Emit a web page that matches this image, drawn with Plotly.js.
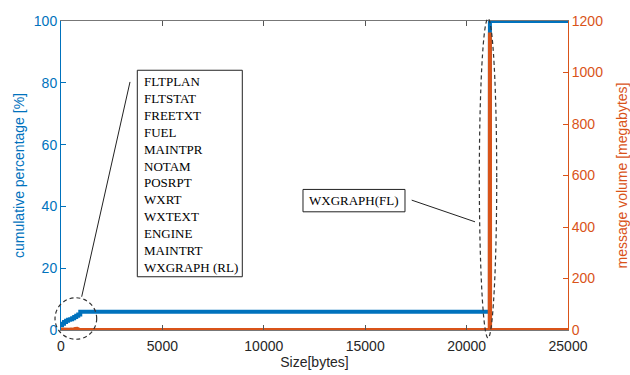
<!DOCTYPE html>
<html>
<head>
<meta charset="utf-8">
<script src="https://cdn.plot.ly/plotly-3.0.1.min.js"></script>
<style>html,body{margin:0;padding:0;background:#fff;}#chart{width:630px;height:375px;}</style>
</head>
<body>
<div id="chart"></div>
<script>
// Cumulative percentage of messages vs message size (bytes)
const cumSize = [0, 50, 150, 250, 350, 450, 550, 650, 750, 850, 950, 21150, 21150, 25000];
const cumPercent = [1.5, 2.0, 2.6, 3.0, 3.3, 3.5, 3.8, 4.2, 4.6, 5.0, 5.9, 5.9, 100, 100];

// Message volume (megabytes) vs message size (bytes)
const volSize = [0, 100, 200, 300, 400, 500, 600, 700, 800, 900, 1000, 21140, 21150, 21160, 25000];
const volMB = [2, 1, 3, 1, 1, 2, 1, 4, 5, 1, 0, 0, 1155, 0, 0];

// Annotation texts
const groupLabels = ["FLTPLAN","FLTSTAT","FREETXT","FUEL","MAINTPR","NOTAM","POSRPT","WXRT","WXTEXT","ENGINE","MAINTRT","WXGRAPH (RL)"];
const spikeLabel = "WXGRAPH(FL)";

const xTicks = [0, 5000, 10000, 15000, 20000, 25000];
const yTicks = [0, 20, 40, 60, 80, 100];
const y2Ticks = [0, 200, 400, 600, 800, 1000, 1200];

const BLUE = '#0072BD', ORANGE = '#D95319', AX = '#262626';
const tickFont = {family: 'Liberation Sans, Arial, sans-serif', size: 14};

const traces = [
  {x: cumSize, y: cumPercent, yaxis: 'y', type: 'scatter', mode: 'lines',
   line: {color: BLUE, width: 4, shape: 'hv'}, hoverinfo: 'skip'},
  {x: volSize, y: volMB, yaxis: 'y2', type: 'scatter', mode: 'lines',
   line: {color: ORANGE, width: 4}, hoverinfo: 'skip'}
];

const serif = {family: 'Liberation Serif, Times New Roman, serif', size: 13, color: '#000'};

const layout = {
  width: 630, height: 375,
  margin: {l: 61, r: 62, t: 20.7, b: 45, pad: 0},
  paper_bgcolor: '#fff', plot_bgcolor: '#fff',
  showlegend: false,
  xaxis: {
    range: [0, 25000], tickvals: xTicks, ticktext: xTicks.map(String),
    ticks: 'inside', ticklen: 5, tickcolor: '#555', showline: true, linecolor: '#777', linewidth: 1,
    mirror: 'ticks', showgrid: false, zeroline: false, ticklabelstandoff: 3,
    tickfont: Object.assign({color: AX}, tickFont),
    title: {text: 'Size[bytes]', font: Object.assign({color: AX}, tickFont), standoff: 4}
  },
  yaxis: {
    range: [0, 100], tickvals: yTicks, ticktext: yTicks.map(String),
    ticks: 'inside', ticklen: 5, tickcolor: BLUE, showline: true, linecolor: BLUE, linewidth: 1,
    showgrid: false, zeroline: false,
    tickfont: Object.assign({color: BLUE}, tickFont),
    title: {text: 'cumulative percentage [%]', font: Object.assign({color: BLUE}, tickFont), standoff: 5}
  },
  yaxis2: {
    range: [0, 1200], tickvals: y2Ticks, ticktext: y2Ticks.map(String),
    overlaying: 'y', side: 'right',
    ticks: 'inside', ticklen: 5, tickcolor: ORANGE, showline: true, linecolor: ORANGE, linewidth: 1,
    showgrid: false, zeroline: false,
    tickfont: Object.assign({color: ORANGE}, tickFont),
    title: {text: 'message volume [megabytes]', font: Object.assign({color: ORANGE}, tickFont), standoff: 15}
  },
  shapes: [
    {type: 'circle', xref: 'paper', yref: 'paper', x0: -0.0118, x1: 0.0704, y0: -0.030, y1: 0.1044,
     line: {color: '#333', width: 1.2, dash: '4px,3px'}},
    {type: 'line', xref: 'paper', yref: 'paper', x0: 0.1361, y0: 0.8028, x1: 0.0408, y1: 0.1077,
     line: {color: '#222', width: 1}},
    {type: 'rect', xref: 'paper', yref: 'paper', x0: 0.1505, x1: 0.3576, y0: 0.1723, y1: 0.8406,
     line: {color: '#222', width: 1}},
    {type: 'rect', xref: 'paper', yref: 'paper', x0: 0.4773, x1: 0.6785, y0: 0.3825, y1: 0.4549,
     line: {color: '#222', width: 1}},
    {type: 'line', xref: 'paper', yref: 'paper', x0: 0.6917, y0: 0.4203, x1: 0.8166, y1: 0.3501,
     line: {color: '#222', width: 1}},
    {type: 'circle', xref: 'paper', yref: 'paper', x0: 0.8251, x1: 0.8594, y0: -0.0259, y1: 1.008,
     line: {color: '#333', width: 1.2, dash: '4px,3px'}}
  ],
  annotations: [
    {xref: 'paper', yref: 'paper', x: 0.1598, y: 0.5044, xanchor: 'left', yanchor: 'middle',
     align: 'left', showarrow: false, text: groupLabels.join('<br>'), font: serif},
    {xref: 'paper', yref: 'paper', x: 0.578, y: 0.4187, xanchor: 'center', yanchor: 'middle',
     showarrow: false, text: spikeLabel, font: serif}
  ]
};

Plotly.newPlot('chart', traces, layout, {displayModeBar: false, staticPlot: true});
</script>
</body>
</html>
